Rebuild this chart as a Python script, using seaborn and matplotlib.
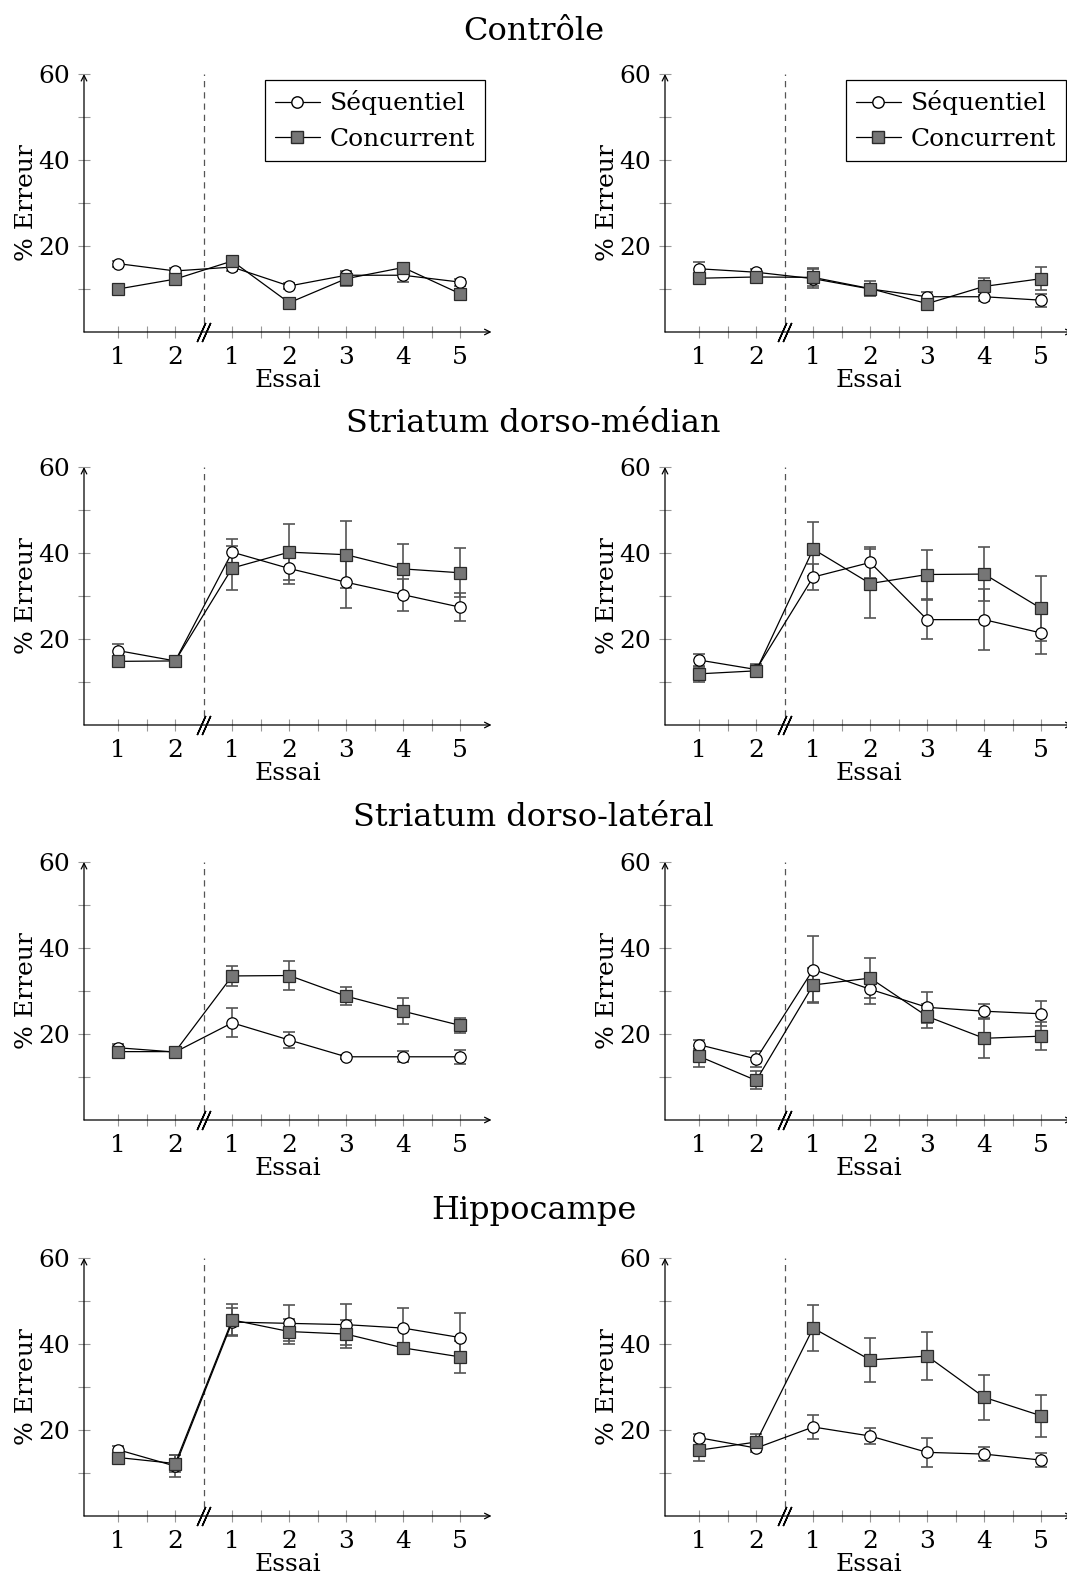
import numpy as np
import pandas as pd
import seaborn as sns
import matplotlib.pyplot as plt
from matplotlib.lines import Line2D

# Data (row-major: left panel then right panel for each region)
regions = ['Contrôle', 'Striatum dorso-médian', 'Striatum dorso-latéral', 'Hippocampe']
essai_labels = ['1', '2', '1', '2', '3', '4', '5']
essai_pos = [0, 1, 2, 3, 4, 5, 6]
break_pos = 1.5

seq_mean = [
    [15.9, 14.2, 15.1, 10.7, 13.2, 13.2, 11.6],
    [14.7, 13.9, 12.4, 10.0, 8.2, 8.2, 7.4],
    [17.3, 14.9, 40.2, 36.4, 33.2, 30.3, 27.4],
    [15.1, 12.9, 34.4, 37.8, 24.5, 24.5, 21.4],
    [16.8, 15.8, 22.6, 18.6, 14.7, 14.7, 14.7],
    [17.5, 14.2, 35.0, 30.4, 26.2, 25.3, 24.7],
    [15.4, 11.6, 45.1, 44.8, 44.5, 43.7, 41.5],
    [18.2, 15.8, 20.7, 18.6, 14.8, 14.4, 13.0],
]
seq_err = [
    [0.7, 0.6, 0.8, 0.6, 0.8, 1.5, 0.8],
    [1.5, 0.7, 2.2, 1.0, 1.0, 1.0, 1.5],
    [1.5, 0.6, 3.1, 3.5, 6.0, 3.7, 3.3],
    [1.5, 1.0, 3.1, 3.7, 4.5, 7.1, 4.8],
    [0.8, 0.6, 3.4, 1.8, 0.5, 1.3, 1.6],
    [1.0, 1.9, 7.7, 3.4, 3.6, 1.6, 2.9],
    [0.8, 2.6, 3.2, 4.2, 4.7, 4.7, 5.6],
    [0.8, 1.0, 2.8, 1.8, 3.3, 1.7, 1.7],
]
conc_mean = [
    [10.0, 12.3, 16.5, 6.8, 12.4, 15.0, 8.9],
    [12.5, 12.8, 12.7, 10.1, 6.6, 10.6, 12.4],
    [14.8, 14.9, 36.5, 40.2, 39.6, 36.3, 35.4],
    [11.9, 12.6, 40.9, 32.9, 35.0, 35.1, 27.1],
    [15.9, 15.9, 33.5, 33.6, 28.8, 25.3, 22.0],
    [14.8, 9.2, 31.4, 33.0, 24.1, 19.0, 19.5],
    [13.6, 12.2, 45.6, 42.9, 42.3, 39.1, 37.0],
    [15.3, 17.2, 43.7, 36.3, 37.2, 27.6, 23.3],
]
conc_err = [
    [0.5, 0.6, 0.7, 0.5, 1.8, 0.8, 1.2],
    [1.0, 0.8, 2.1, 1.7, 0.8, 2.0, 2.7],
    [0.8, 0.7, 5.1, 6.5, 7.8, 5.9, 5.7],
    [1.9, 1.5, 6.2, 8.0, 5.6, 6.3, 7.5],
    [1.2, 0.6, 2.3, 3.4, 2.1, 3.0, 1.8],
    [2.4, 2.1, 4.0, 4.7, 2.8, 4.5, 3.3],
    [0.8, 1.9, 3.6, 2.8, 3.3, 1.0, 3.7],
    [2.4, 1.9, 5.4, 5.2, 5.5, 5.3, 4.9],
]

sns.set_style('white')
plt.rcParams['font.family'] = ['DejaVu Serif']
plt.rcParams['text.color'] = 'black'
plt.rcParams['axes.labelcolor'] = 'black'
plt.rcParams['xtick.labelcolor'] = 'black'
plt.rcParams['ytick.labelcolor'] = 'black'
FS = 18

W, H = 1067, 1573
fig = plt.figure(figsize=(W / 100, H / 100), dpi=100)

col_left = [84, 665]
row_top = [74, 467, 862, 1258]
title_y = [32, 424, 817, 1210]
ax_w, ax_h = 407.5, 258
XMIN, XMAX = -0.6, 6.55

seq_style = dict(marker='o', markersize=8.2)
conc_style = dict(marker='s', markersize=8.4)

for r, region in enumerate(regions):
    fig.text(0.5, 1 - title_y[r] / H, region, ha='center', va='center', fontsize=23)
    for c in range(2):
        k = 2 * r + c
        ax = fig.add_axes([col_left[c] / W, 1 - (row_top[r] + ax_h) / H, ax_w / W, ax_h / H])
        ax.set_facecolor('none')
        df = pd.DataFrame({'pos': essai_pos, 'seq': seq_mean[k], 'conc': conc_mean[k]})

        ax.errorbar(essai_pos, seq_mean[k], yerr=seq_err[k], fmt='none', ecolor='#555555',
                    elinewidth=1.2, capsize=4, capthick=1.2, zorder=2)
        ax.errorbar(essai_pos, conc_mean[k], yerr=conc_err[k], fmt='none', ecolor='#555555',
                    elinewidth=1.2, capsize=4, capthick=1.2, zorder=2)

        sns.lineplot(data=df, x='pos', y='seq', ax=ax, color='black', linewidth=0.9, **seq_style)
        ln = ax.lines[-1]
        ln.set_markerfacecolor('white'); ln.set_markeredgecolor('black'); ln.set_markeredgewidth(0.9)
        ln.set_zorder(3)
        sns.lineplot(data=df, x='pos', y='conc', ax=ax, color='black', linewidth=0.9, **conc_style)
        ln = ax.lines[-1]
        ln.set_markerfacecolor('#767676'); ln.set_markeredgecolor('#2a2a2a'); ln.set_markeredgewidth(0.9)
        ln.set_zorder(4)

        # dashed separator and axis break
        ax.vlines(break_pos, 2, 60, colors='#555555', linestyles=(0, (5, 4)), linewidth=0.9, zorder=1)
        ax.plot([break_pos - 0.04, break_pos + 0.04], [0, 0], ls='none', marker=(2, 2, -24),
                markersize=15, color='black', markeredgewidth=1.1, clip_on=False, zorder=5)

        ax.set_xlim(XMIN, XMAX)
        ax.set_ylim(0, 60)
        for s in ax.spines.values():
            s.set_visible(False)
        ax.annotate('', xy=(1, 0), xytext=(0, 0), xycoords='axes fraction',
                    arrowprops=dict(arrowstyle='->', lw=0.9, color='black', mutation_scale=10,
                                    shrinkA=0, shrinkB=0))
        ax.annotate('', xy=(0, 1), xytext=(0, 0), xycoords='axes fraction',
                    arrowprops=dict(arrowstyle='->', lw=0.9, color='black', mutation_scale=10,
                                    shrinkA=0, shrinkB=0))

        ax.set_xticks(essai_pos)
        ax.set_xticklabels(essai_labels)
        ax.set_xticks([0.5, 2.5, 3.5, 4.5, 5.5], minor=True)
        ax.set_yticks([20, 40, 60])
        ax.set_yticks([10, 30, 50], minor=True)
        ax.tick_params(which='both', direction='inout', length=8, width=0.8, color='#999999',
                       labelsize=FS, pad=6, bottom=True, left=True)
        ax.set_xlabel('Essai', fontsize=FS, labelpad=0)
        ax.set_ylabel('% Erreur', fontsize=FS, labelpad=0)

        if r == 0:
            handles = [
                Line2D([], [], color='black', lw=0.9, marker='o', markersize=8.2,
                       markerfacecolor='white', markeredgecolor='black'),
                Line2D([], [], color='black', lw=0.9, marker='s', markersize=8.4,
                       markerfacecolor='#767676', markeredgecolor='#2a2a2a'),
            ]
            leg = ax.legend(handles, ['Séquentiel', 'Concurrent'], loc='upper right',
                            bbox_to_anchor=(1, 1), fontsize=FS, frameon=True, fancybox=False,
                            edgecolor='black', framealpha=1, handlelength=1.8,
                            handletextpad=0.4, labelspacing=0.5, borderpad=0.4,
                            borderaxespad=0.25)
            leg.get_frame().set_linewidth(0.9)

fig.savefig('out.png', dpi=100)
